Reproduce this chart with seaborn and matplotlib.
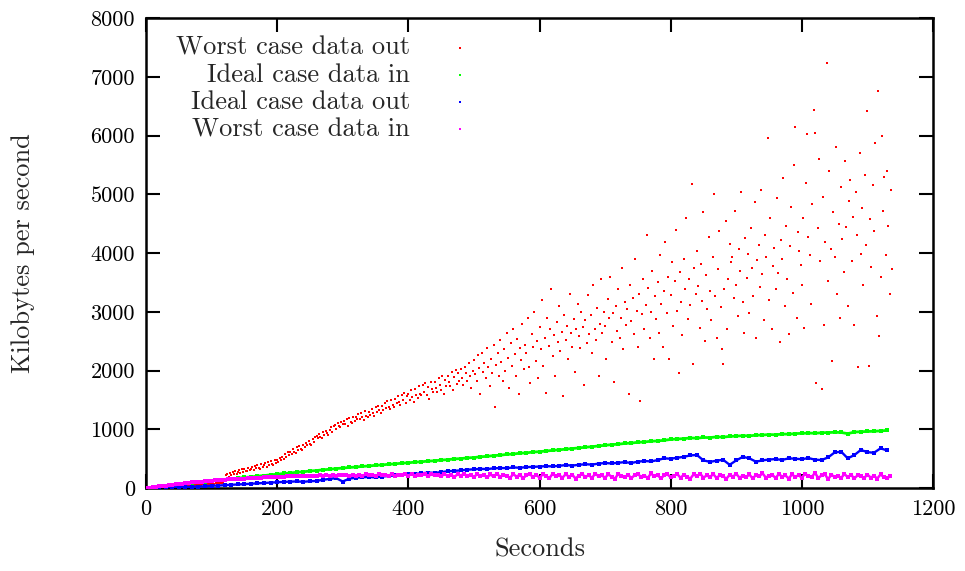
import numpy as np
import pandas as pd
import seaborn as sns
import matplotlib
matplotlib.use("Agg")
import matplotlib.pyplot as plt

# ---- data (KB/s), sampled on regular time grids ----
# Worst case data out: every 2 s starting at 60 s
worst_out_start = 60
worst_out_step = 2
worst_out = [
    38, 42, 45, 40, 48, 52, 46, 55, 50, 58, 54, 60, 57, 64, 59,
    66, 62, 70, 65, 72, 68, 75, 71, 78, 74, 82, 77, 85, 80, 88,
    62, 215, 238, 180, 250, 226, 270, 232, 286, 244,
    270, 304, 250, 316, 276, 330, 290, 282, 344, 306,
    326, 364, 302, 374, 336, 390, 346, 330, 404, 358,
    384, 424, 362, 440, 396, 458, 410, 398, 480, 428,
    478, 446, 512, 470, 536, 496, 574, 524, 610, 566,
    620, 586, 662, 618, 600, 690, 640, 714, 670, 650,
    730, 700, 772, 726, 806, 754, 734, 836, 786, 862,
    880, 844, 926, 876, 852, 952, 904, 976, 930, 908,
    990, 1030, 958, 1056, 1076, 1008, 1108, 1054, 1034, 1126,
    1086, 1146, 1090, 1168, 1050, 1190, 1124, 1104, 1214, 1144,
    1210, 1166, 1256, 1182, 1280, 1206, 1160, 1304, 1232, 1214,
    1300, 1250, 1352, 1274, 1226, 1378, 1300, 1402, 1322, 1276,
    1390, 1332, 1444, 1356, 1474, 1384, 1346, 1506, 1416, 1378,
    1510, 1440, 1566, 1468, 1408, 1586, 1494, 1614, 1448, 1570,
    1600, 1504, 1668, 1546, 1472, 1690, 1588, 1528, 1730, 1606,
    1580, 1750, 1630, 1790, 1584, 1716, 1516, 1810, 1680, 1626,
    1800, 1710, 1636, 1870, 1746, 1676, 1900, 1596, 1840, 1730,
    1900, 1804, 1736, 1970, 1676, 1890, 2010, 1776, 1950, 1826,
    2020, 1880, 1760, 2060, 1950, 1820, 2120, 1900, 1700, 2000,
    2180, 1940, 1820, 2260, 2040, 1600, 2300, 1980, 2120, 1880,
    2380, 2060, 1740, 2200, 1960, 2440, 1380, 2100, 2300, 1900,
    2520, 2140, 1820, 2360, 2000, 2640, 2220, 1700, 2460, 2080,
    2700, 2280, 1900, 2540, 1600, 2380, 2180, 2800, 2020, 2440,
    2300, 2900, 2060, 1780, 2620, 2400, 3000, 2160, 2500, 1880,
    2740, 2360, 3200, 2080, 2560, 1620, 2900, 2420, 2700, 3380,
    2240, 2600, 1900, 2820, 2480, 3100, 2340, 2660, 1560, 2940,
    2520, 2760, 2200, 3300, 2640, 2400, 2880, 1980, 2700, 3140,
    2580, 2380, 3000, 2740, 1760, 2860, 2460, 3280, 2620, 2940,
    2300, 3460, 2700, 2520, 3060, 1900, 2800, 3560, 2640, 3000,
    2760, 2200, 3220, 2900, 3600, 2480, 2980, 1800, 3100, 2680,
    3380, 2560, 2900, 3740, 2360, 3160, 2780, 3040, 1600, 3460,
    2840, 3240, 2620, 3900, 3020, 2400, 3300, 1480, 2960, 3560,
    2700, 3120, 4300, 3400, 2560, 3000, 3700, 2200, 3260, 2880,
    3500, 2640, 3960, 3140, 2400, 3360, 4180, 2980, 3600, 2200,
    3280, 3840, 2760, 3520, 4400, 3020, 1960, 3680, 3160, 2600,
    3900, 3380, 4600, 2880, 3560, 3120, 5180, 2110, 3740, 3300,
    4040, 3440, 2720, 3820, 3180, 4700, 2500, 3620, 3040, 4280,
    3360, 2860, 3940, 5000, 3260, 2560, 3720, 4380, 3080, 2360,
    2110, 3380, 4540, 2700, 3560, 4160, 3840, 3940, 3240, 4720,
    3460, 2920, 4060, 3700, 5040, 3160, 2640, 4260, 3580, 3980,
    2980, 4420, 3740, 3260, 4860, 2560, 3880, 4140, 3420, 5080,
    3640, 2860, 4300, 3940, 5960, 3200, 4600, 2700, 3780, 4080,
    3380, 4940, 3660, 2480, 4220, 3900, 5280, 3100, 4460, 3560,
    2620, 4120, 4780, 3320, 5500, 6140, 2900, 4360, 4040, 3800,
    3460, 4600, 2720, 5200, 6020, 4280, 3960, 3140, 4840, 6430,
    6040, 1790, 4420, 5600, 3860, 1690, 4960, 2780, 4180, 7230,
    3520, 5400, 4060, 2160, 4700, 3940, 5800, 3300, 4500, 2900,
    5120, 4240, 3680, 5560, 4440, 3100, 4880, 5240, 3860, 4620,
    2780, 5040, 4300, 2060, 5700, 3980, 4760, 3460, 5320, 4140,
    6420, 2080, 4580, 3760, 5160, 4380, 5880, 2920, 6760, 2590,
    3600, 5990, 4720, 5300, 3960, 5400, 4460, 3300, 5080, 3720,
]

# Ideal case data in: every 10 s from 0 s
ideal_in_step = 10
ideal_in = [
    0, 13, 23, 37, 47, 61, 71, 85, 95, 109,
    119, 132, 142, 155, 165, 179, 188, 202, 211, 225,
    234, 247, 255, 268, 276, 289, 297, 310, 318, 331,
    339, 350, 357, 368, 375, 386, 393, 404, 411, 422,
    429, 440, 446, 458, 463, 476, 482, 495, 500, 513,
    518, 532, 538, 552, 558, 572, 578, 592, 598, 612,
    618, 630, 640, 651, 660, 672, 682, 694, 703, 716,
    727, 738, 746, 758, 765, 778, 784, 796, 801, 812,
    826, 835, 840, 852, 848, 860, 858, 870, 866, 878,
    884, 890, 888, 898, 902, 910, 906, 918, 916, 926,
    930, 935, 932, 940, 944, 948, 945, 925, 952, 958,
    962, 966, 972, 980,
]

# Ideal case data out: every 10 s from 0 s
ideal_out_step = 10
ideal_out = [
    0, 2, 5, 8, 10, 14, 17, 21, 25, 30,
    38, 42, 48, 55, 60, 66, 72, 80, 85, 92,
    98, 104, 108, 112, 106, 115, 120, 140, 155, 168,
    110, 160, 175, 182, 188, 180, 195, 205, 215, 225,
    232, 240, 250, 262, 258, 270, 285, 292, 300, 312,
    318, 326, 322, 335, 340, 338, 350, 345, 355, 360,
    365, 372, 368, 378, 390, 382, 395, 405, 398, 415,
    425, 418, 430, 440, 426, 448, 460, 452, 475, 505,
    498, 515, 530, 555, 562, 470, 445, 465, 480, 395,
    470, 530, 505, 448, 470, 485, 492, 478, 505, 498,
    490, 510, 482, 476, 520, 605, 618, 505, 560, 648,
    610, 600, 675, 640,
]

# Worst case data in: every 5 s from 0 s
worst_in_step = 5
worst_in = [
    0, 7, 14, 21, 28, 35, 42, 49, 56, 63,
    70, 76, 82, 88, 94, 100, 105, 110, 115, 120,
    125, 129, 133, 137, 141, 145, 149, 152, 155, 158,
    161, 164, 167, 170, 173, 176, 179, 182, 185, 188,
    190, 193, 195, 197, 199, 201, 203, 205, 206, 208,
    209, 212, 208, 214, 210, 216, 211, 218, 212, 219,
    215, 222, 210, 226, 212, 224, 208, 230, 214, 221,
    205, 232, 216, 228, 210, 238, 206, 225, 218, 234,
    212, 236, 204, 228, 220, 240, 200, 232, 214, 226,
    196, 238, 208, 224, 190, 230, 212, 242, 198, 220,
    186, 236, 204, 222, 180, 230, 196, 244, 190, 218,
    208, 172, 236, 194, 226, 168, 214, 240, 186, 222,
    178, 230, 200, 164, 244, 196, 218, 174, 236, 190,
    226, 160, 212, 238, 184, 220, 170, 246, 198, 214,
    176, 232, 192, 158, 240, 206, 180, 228, 166, 218,
    236, 188, 210, 170, 248, 196, 222, 162, 214, 234,
    180, 206, 240, 172, 226, 190, 160, 232, 198, 244,
    176, 214, 186, 238, 168, 220, 200, 156, 228, 192,
    242, 174, 210, 184, 230, 164, 218, 196, 252, 178,
    206, 226, 168, 240, 190, 214, 160, 232, 186, 220,
    172, 246, 198, 180, 262, 168, 214, 236, 150, 224,
    190, 208, 172, 238, 184, 226, 162, 216, 198, 170,
    228, 178, 206, 160, 232, 186, 174, 196,
]

series_labels = ["Worst case data out", "Ideal case data in",
                 "Ideal case data out", "Worst case data in"]
series_colors = ["#ff0000", "#00ff00", "#0000ff", "#ff00ff"]

x_ticks = [0, 200, 400, 600, 800, 1000, 1200]
y_ticks = [0, 1000, 2000, 3000, 4000, 5000, 6000, 7000, 8000]

# ---- tables ----
df_wo = pd.DataFrame({"t": worst_out_start + worst_out_step * np.arange(len(worst_out)),
                      "v": worst_out})
df_ii = pd.DataFrame({"t": ideal_in_step * np.arange(len(ideal_in)), "v": ideal_in})
df_io = pd.DataFrame({"t": ideal_out_step * np.arange(len(ideal_out)), "v": ideal_out})
df_wi = pd.DataFrame({"t": worst_in_step * np.arange(len(worst_in)), "v": worst_in})

# ---- figure ----
sns.set_style("ticks")
plt.rcParams["font.family"] = ["cmr10", "DejaVu Serif"]
plt.rcParams["axes.formatter.use_mathtext"] = True
plt.rcParams["mathtext.fontset"] = "cm"

fig, ax = plt.subplots(figsize=(9.65, 5.71), dpi=100)
fig.subplots_adjust(left=146 / 965, right=933 / 965, top=1 - 18 / 571, bottom=1 - 488 / 571)

sns.scatterplot(data=df_wo, x="t", y="v", color=series_colors[0], marker="s",
                s=3, linewidth=0, ax=ax, zorder=2)
line_kw = dict(x="t", y="v", ax=ax, marker="s", markersize=2.2,
               markeredgewidth=0, estimator=None)
sns.lineplot(data=df_ii, color=series_colors[1], zorder=3, linewidth=2.0, **line_kw)
sns.lineplot(data=df_io, color=series_colors[2], zorder=4, linewidth=1.7, **line_kw)
sns.lineplot(data=df_wi, color=series_colors[3], zorder=5, linewidth=1.8, **line_kw)

ax.set_xlim(0, 1200)
ax.set_ylim(0, 8000)
ax.set_xticks(x_ticks)
ax.set_yticks(y_ticks)
ax.set_xticklabels([str(v) for v in x_ticks])
ax.set_yticklabels([str(v) for v in y_ticks])
ax.tick_params(direction="in", length=10, width=1.5, top=True, right=True,
               labelsize=16, pad=8, colors="black")
for sp in ax.spines.values():
    sp.set_visible(True)
    sp.set_linewidth(1.8)
    sp.set_color("black")

ax.set_xlabel("Seconds", fontsize=19, labelpad=14)
ax.set_ylabel("Kilobytes per second", fontsize=19, labelpad=40)

# key in the upper left: right-aligned text followed by a point sample
for i, (lab, col) in enumerate(zip(series_labels, series_colors)):
    yk = 0.936 - i * 0.0575
    ax.text(0.3355, yk, lab, transform=ax.transAxes, ha="right", va="center",
            fontsize=19, zorder=6)
    ax.plot([0.399], [yk], transform=ax.transAxes, ls="none", marker="s",
            ms=1.8, mew=0, color=col, zorder=6)

fig.savefig("out.png", dpi=100)
